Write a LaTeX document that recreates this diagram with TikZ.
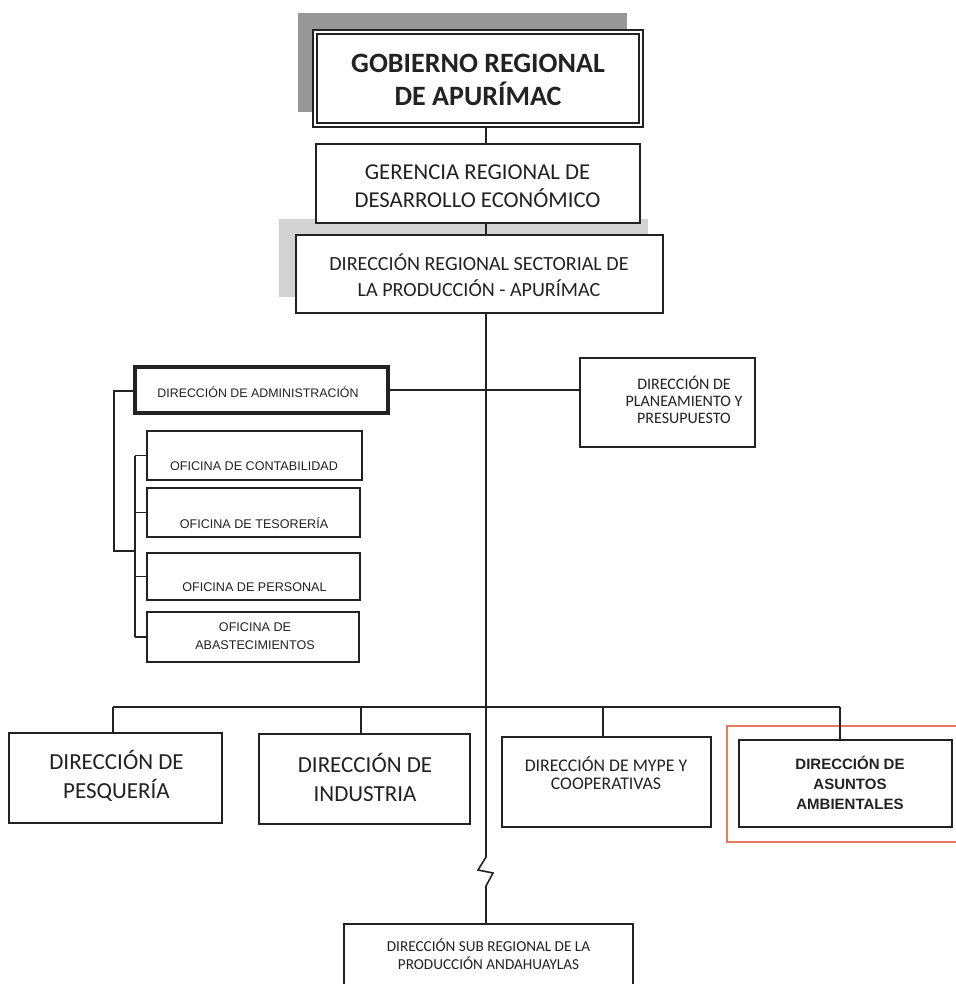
\documentclass[tikz,border=0pt]{standalone}
\usepackage{fontspec}
\setmainfont{Carlito}
\newfontfamily\arialf{Liberation Sans}
\usetikzlibrary{fit}
\definecolor{ink}{HTML}{222222}
\definecolor{shadowA}{HTML}{979797}
\definecolor{shadowB}{HTML}{D2D2D2}
\definecolor{hilite}{HTML}{E97A5B}
\begin{document}
\begin{tikzpicture}[x=1pt,y=-1pt,
  box/.style={draw=ink, line width=2.8pt, rectangle, inner sep=0pt, fill=white},
  thinbox/.style={draw=ink, line width=1.8pt, rectangle, inner sep=0pt, fill=white},
  heavybox/.style={draw=ink, line width=3.6pt, rectangle, inner sep=0pt, fill=white},
  conn/.style={draw=ink, line width=1.6pt},
  lbl/.style={text=ink, align=center, inner sep=0pt}]
\useasboundingbox (0,0) rectangle (955,984);
% shadows
\fill[shadowA] (298,13) rectangle (627,112);
\fill[shadowB] (279,219) rectangle (648,297);
% trunk coordinates
\coordinate (t0) at (486,127);
\coordinate (t1) at (486,144);
\coordinate (t2) at (486,313);
\coordinate (z1) at (486,857);
\coordinate (z2) at (478,870);
\coordinate (z3) at (493,873);
\coordinate (z4) at (486,886);
% top
\node[box, line width=2.4pt, fit={(313,30)(643,127)}] (gob) {};
\draw[ink, line width=1.8pt] ([shift={(5,5)}]gob.north west) rectangle ([shift={(-5,-5)}]gob.south east);
\node[lbl, font=\fontsize{28}{33}\selectfont\bfseries] (gobt) at (478,80) {GOBIERNO REGIONAL\\DE APURÍMAC};
\node[box, fit={(316,144)(640,223)}] (ger) {};
\node[lbl, font=\fontsize{22.7}{28}\selectfont] (gert) at (477.5,186) {GERENCIA REGIONAL DE\\DESARROLLO ECONÓMICO};
\node[box, fit={(296,235)(663,313)}] (drs) {};
\node[lbl, font=\fontsize{20.1}{26}\selectfont] (drst) at (479,275) {DIRECCIÓN REGIONAL SECTORIAL DE\\LA PRODUCCIÓN - APURÍMAC};
% admin & planning
\node[heavybox, fit={(135,367)(388,413)}] (adm) {};
\node[lbl, font=\arialf\fontsize{12.4}{14}\selectfont] (admt) at (258,392) {DIRECCIÓN DE ADMINISTRACIÓN};
\node[box, fit={(580,358)(755,447)}] (plan) {};
\node[lbl, font=\fontsize{16}{17}\selectfont] (plant) at (684,400) {DIRECCIÓN DE\\PLANEAMIENTO Y\\PRESUPUESTO};
% offices
\node[thinbox, fit={(147,431)(362,480)}] (cont) {};
\node[lbl, font=\arialf\fontsize{12.6}{14}\selectfont] (contt) at (254,466) {OFICINA DE CONTABILIDAD};
\node[thinbox, fit={(147,488)(360,537)}] (tes) {};
\node[lbl, font=\arialf\fontsize{12.6}{14}\selectfont] (test) at (254,523) {OFICINA DE TESORERÍA};
\node[thinbox, fit={(147,553)(360,600)}] (per) {};
\node[lbl, font=\arialf\fontsize{12.6}{14}\selectfont] (pert) at (254.5,587) {OFICINA DE PERSONAL};
\node[thinbox, fit={(147,612)(359,662)}] (abas) {};
\node[lbl, font=\arialf\fontsize{12.6}{18}\selectfont] (abast) at (255,636) {OFICINA DE\\ABASTECIMIENTOS};
% bottom row
\node[box, fit={(9,733)(222,823)}] (pes) {};
\node[lbl, font=\fontsize{23}{29}\selectfont] (pest) at (116.5,775.5) {DIRECCIÓN DE\\PESQUERÍA};
\node[box, fit={(259,734)(470,824)}] (ind) {};
\node[lbl, font=\fontsize{23}{29}\selectfont] (indt) at (365,777.5) {DIRECCIÓN DE\\INDUSTRIA};
\node[box, fit={(502,737)(711,827)}] (mype) {};
\node[lbl, font=\fontsize{17.8}{17.5}\selectfont] (mypet) at (606,773) {DIRECCIÓN DE MYPE Y\\COOPERATIVAS};
\node[box, fit={(739,740)(952,827)}] (amb) {};
\node[lbl, font=\arialf\bfseries\fontsize{15}{20}\selectfont] (ambt) at (850,783) {DIRECCIÓN DE\\ASUNTOS\\AMBIENTALES};
\draw[hilite, line width=1.8pt] (727,726) rectangle (966,842);
% sub regional
\node[thinbox, line width=2.2pt, fit={(344,924)(633,1000)}] (sub) {};
\node[lbl, font=\fontsize{15.2}{18}\selectfont] (subt) at (488.5,954) {DIRECCIÓN SUB REGIONAL DE LA\\PRODUCCIÓN ANDAHUAYLAS};
% connectors
\draw[conn] (t0) -- (t1);
\draw[conn] (ger.south -| t0) -- (drs.north -| t0);
\draw[conn] (t2) -- (z1) -- (z2) -- (z3) -- (z4) -- (sub.north -| z4);
\draw[conn] (adm.east) -- (plan.west |- adm.east);
% admin bracket
\coordinate (b1) at (114,391);
\coordinate (b2) at (114,551);
\coordinate (b3) at (135,551);
\draw[conn] (adm.west |- b1) -- (b1) -- (b2) -- (b3);
\coordinate (iTop) at (135,455.5);
\coordinate (iBot) at (135,637);
\draw[conn] (iTop) -- (iBot);
\draw[conn] (iTop) -- (cont.west |- iTop);
\draw[conn] (135,512.5) -- (tes.west |- 135,512.5);
\draw[conn] (135,576.5) -- (per.west |- 135,576.5);
\draw[conn] (iBot) -- (abas.west |- iBot);
% bottom bus
\coordinate (busL) at (113,707);
\coordinate (busR) at (840,707);
\draw[conn] (busL) -- (busR);
\draw[conn] (busL) -- (pes.north -| busL);
\draw[conn] (361,707) -- (ind.north -| 361,707);
\draw[conn] (603,707) -- (mype.north -| 603,707);
\draw[conn] (busR) -- (amb.north -| busR);
\end{tikzpicture}
\end{document}
